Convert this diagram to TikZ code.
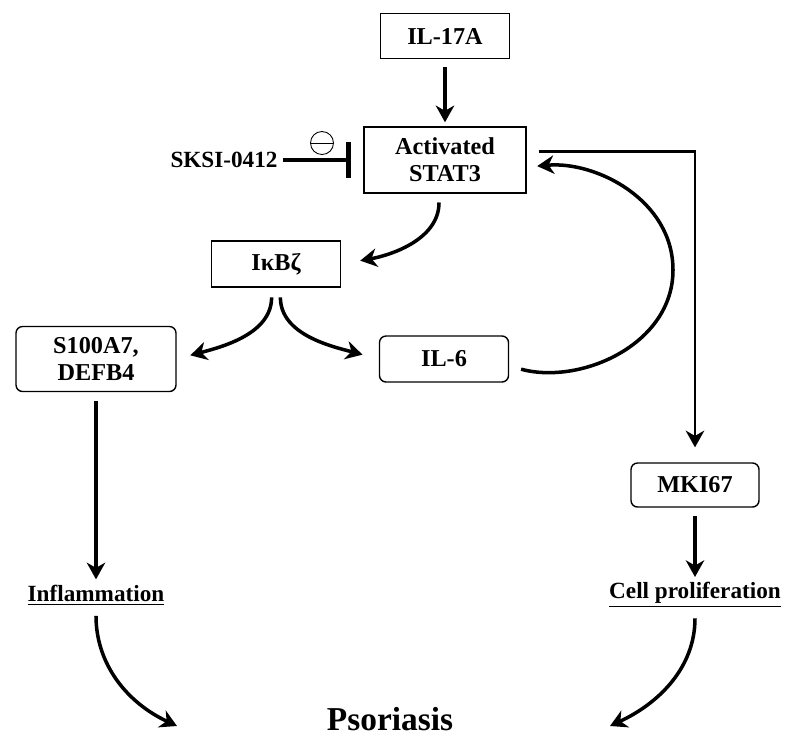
\documentclass[tikz,border=0pt]{standalone}
\usepackage{fontspec}
\setmainfont{Liberation Serif}
\usetikzlibrary{positioning, arrows.meta}
\tikzset{
    >={Stealth[length=9.5pt, width=10.5pt, inset=3pt]}, % filled arrow heads
    link/.style={->, line width=2pt}, % arrows between the boxes
    box/.style={draw, line width=0.8pt, inner sep=0pt, align=center, font=\fontsize{13.8}{15.5}\selectfont\bfseries}, % square boxes
    rbox/.style={box, rounded corners=0.13cm}, % rounded boxes
    outcome/.style={inner sep=1pt, font=\fontsize{13.2}{15}\selectfont\bfseries}, % underlined outcomes
}
\begin{document}
\begin{tikzpicture}[x=0.02cm, y=-0.02cm]
    \useasboundingbox (0,0) rectangle (785,738);
    \node[box, minimum width=2.58cm, minimum height=0.9cm] (il17a) at (445,36) {IL-17A};
    \node[box, minimum width=3.24cm, minimum height=1.32cm] (stat3) at (445,160) {Activated\\STAT3};
    \node[outcome] (sksi) at (224,160) {SKSI-0412};
    \node[draw, circle, line width=0.5pt, minimum size=0.46cm, inner sep=0pt] (minus) at (322,143) {};
    \node[box, minimum width=2.58cm, minimum height=0.92cm] (ikbz) at (276,264) {IκBζ};
    \node[rbox, minimum width=3.2cm, minimum height=1.3cm] (s100) at (96,359) {S100A7,\\DEFB4};
    \node[rbox, minimum width=2.58cm, minimum height=0.92cm] (il6) at (444,359) {IL-6};
    \node[rbox, minimum width=2.56cm, minimum height=0.88cm] (mki67) at (695,485) {MKI67};
    \node[outcome] (inflam) at (96,595) {\underline{Inflammation}};
    \node[outcome] (prolif) at (695,595) {\underline{Cell proliferation}};
    \node[font=\fontsize{19}{21}\selectfont\bfseries] (psor) at (390,719) {Psoriasis};
    \coordinate (turn) at (673,270);
    \coordinate (lefttip) at (177,726);
    \coordinate (righttip) at (610,726);
    \draw[line width=0.5pt] (minus.west) -- (minus.east);
    \draw[link, shorten <=4.5pt, shorten >=2.3pt] (il17a) -- (stat3);
    \draw[-{Bar[width=21pt, line width=2.8pt]}, line width=2pt, shorten <=2pt, shorten >=7pt] (sksi) -- (stat3);
    \draw[link, shorten <=5pt, shorten >=11pt] ([xshift=-3.4pt]stat3.south) to[out=-90, in=10] (ikbz.east);
    \draw[link, shorten <=5.5pt, shorten >=8pt] ([xshift=-2.5pt]ikbz.south) to[out=-90, in=15] (s100.east);
    \draw[link, shorten <=5.5pt, shorten >=9.6pt] ([xshift=2.5pt]ikbz.south) to[out=-90, in=165] (il6.west);
    \draw[link, shorten <=7pt, shorten >=6pt] ([yshift=-4pt]il6.east) to[out=-15, in=-90] (turn) to[out=90, in=5] ([yshift=-4pt]stat3.east);
    \draw[->, line width=1.7pt, shorten <=7pt, shorten >=8.5pt] ([yshift=5pt]stat3.east) -| (mki67.north);
    \draw[link, shorten <=5pt, shorten >=2pt] (s100) -- (inflam);
    \draw[link, shorten <=4.5pt, shorten >=2pt] (mki67) -- (prolif);
    \draw[link, shorten <=5pt] (inflam.south) to[out=-90, in=155] (lefttip);
    \draw[link, shorten <=5pt] (prolif.south) to[out=-90, in=25] (righttip);
\end{tikzpicture}
\end{document}
